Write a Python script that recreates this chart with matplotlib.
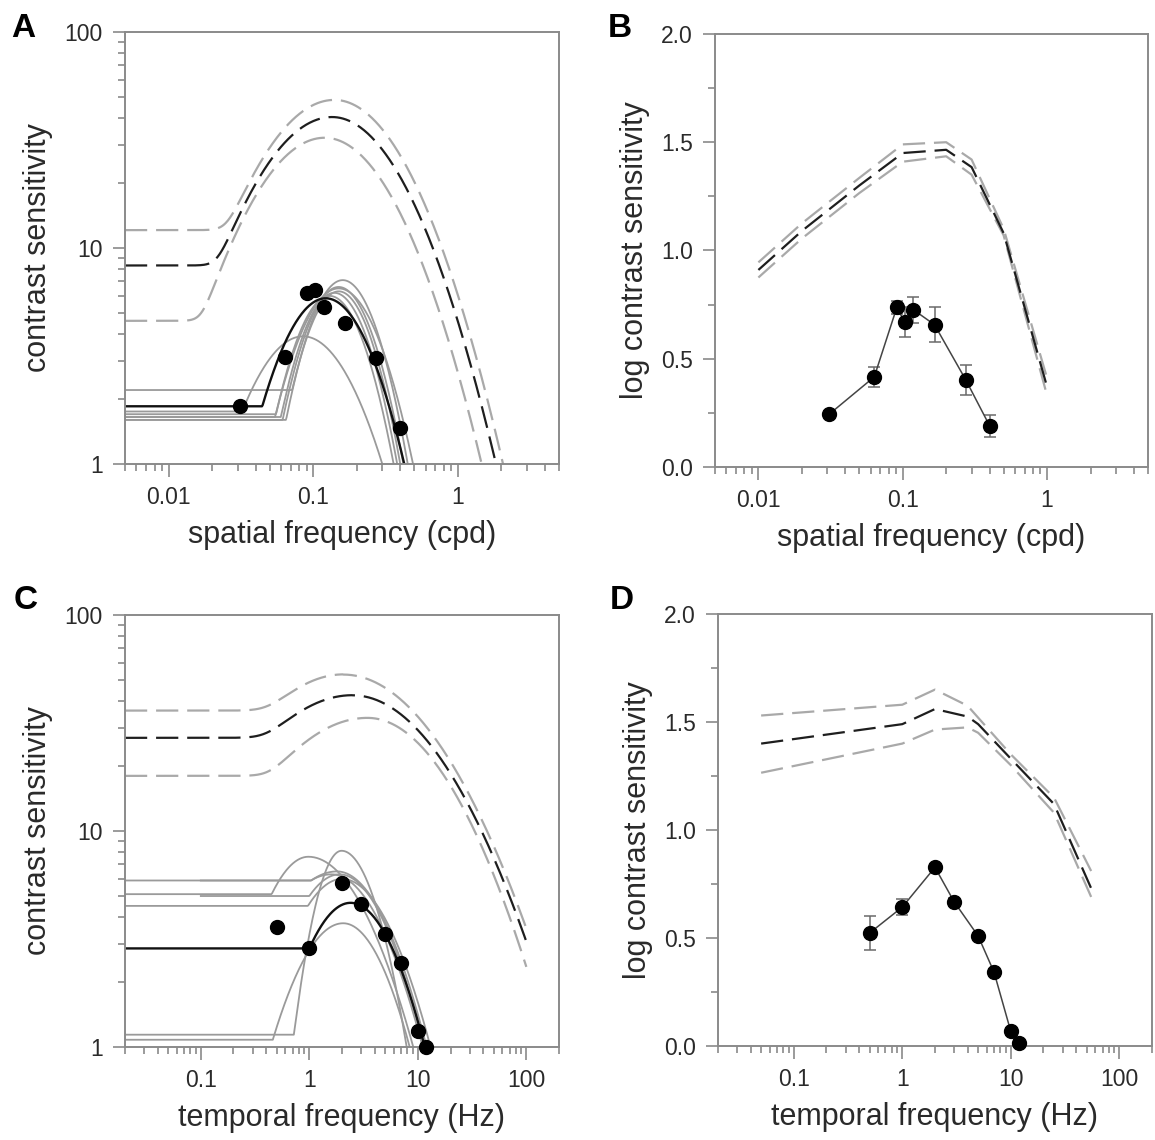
import numpy as np
import matplotlib
matplotlib.use("Agg")
import matplotlib.pyplot as plt
from matplotlib.ticker import LogLocator, FuncFormatter, MultipleLocator, NullFormatter

plt.rcParams['font.family'] = ['Liberation Sans', 'DejaVu Sans']

# ---- data --------------------------------------------------------------------
# A: contrast sensitivity vs spatial frequency (one animal)
sf_pts = [0.031, 0.0635, 0.091, 0.103, 0.118, 0.166, 0.273, 0.40]
sf_cs = [1.85, 3.12, 6.22, 6.37, 5.35, 4.5, 3.1, 1.46]

# truncated log-parabola fits: peak gain, peak freq, left width, right width, floor
a_fit_black = [5.85, 0.122, 0.62, 0.62, 1.85]
a_gray_gain = [3.9, 7.1, 6.5, 6.3, 6.0, 6.2, 6.6]
a_gray_fpk = [0.085, 0.16, 0.15, 0.15, 0.13, 0.14, 0.15]
a_gray_wl = [0.713, 0.487, 0.57, 0.476, 0.501, 0.488, 0.494]
a_gray_wr = [0.713, 0.487, 0.57, 0.476, 0.501, 0.488, 0.494]
a_gray_floor = [1.75, 1.6, 1.65, 2.2, 1.7, 1.65, 1.6]
# dashed reference fits (upper gray, black, lower gray)
a_ref_gain = [48.5, 40.4, 32.4]
a_ref_fpk = [0.14, 0.135, 0.12]
a_ref_wl = [0.95, 0.95, 0.92]
a_ref_wr = [0.898, 0.894, 0.883]
a_ref_floor = [12.1, 8.3, 4.6]

# B: log contrast sensitivity vs spatial frequency (mean +/- sem)
b_log_cs = [0.244, 0.416, 0.737, 0.67, 0.727, 0.657, 0.403, 0.19]
b_err = [0.015, 0.046, 0.03, 0.07, 0.06, 0.08, 0.07, 0.05]
b_ref_sf = [0.01, 0.02, 0.05, 0.1, 0.2, 0.3, 0.5, 1.0]
b_ref_hi = [0.945, 1.125, 1.335, 1.49, 1.50, 1.42, 1.10, 0.41]
b_ref_mid = [0.91, 1.09, 1.30, 1.45, 1.465, 1.385, 1.08, 0.37]
b_ref_lo = [0.875, 1.055, 1.265, 1.41, 1.435, 1.35, 1.07, 0.33]

# C: contrast sensitivity vs temporal frequency (one animal)
tf_pts = [0.5, 1.0, 2.0, 3.0, 5.0, 7.0, 10.0, 12.0]
tf_cs = [3.6, 2.86, 5.76, 4.6, 3.33, 2.45, 1.18, 1.0]
c_fit_black = [4.65, 2.4, 0.827, 0.837, 2.86]
c_gray_gain = [7.6, 8.1, 3.74, 6.3, 6.5, 6.3, 6.0]
c_gray_fpk = [0.98, 1.98, 2.05, 1.6, 1.8, 1.9, 2.0]
c_gray_wl = [0.813, 0.476, 0.883, 1.12, 1.16, 0.88, 0.888]
c_gray_wr = [1.03, 0.63, 0.81, 0.94, 0.916, 0.87, 0.925]
c_gray_floor = [5.1, 1.14, 1.08, 5.9, 5.9, 5.0, 4.5]
c_gray_start = [0.02, 0.02, 0.02, 0.02, 0.1, 0.1, 0.02]
c_ref_gain = [53.0, 42.5, 33.4]
c_ref_fpk = [2.06, 2.5, 3.44]
c_ref_wl = [1.62, 1.72, 1.70]
c_ref_wr = [1.555, 1.50, 1.363]
c_ref_floor = [36.1, 27.0, 18.0]

# D: log contrast sensitivity vs temporal frequency (mean +/- sem)
d_log_cs = [0.523, 0.643, 0.827, 0.668, 0.509, 0.342, 0.067, 0.015]
d_err = [0.08, 0.038, 0.015, 0.015, 0.015, 0.015, 0.015, 0.015]
d_ref_tf = [0.05, 1.0, 2.0, 4.0, 5.0, 10.0, 25.0, 55.0]
d_ref_hi = [1.53, 1.58, 1.65, 1.575, 1.52, 1.35, 1.15, 0.81]
d_ref_mid = [1.40, 1.49, 1.56, 1.525, 1.49, 1.33, 1.12, 0.73]
d_ref_lo = [1.265, 1.40, 1.465, 1.475, 1.45, 1.30, 1.08, 0.69]

# ---- styling -----------------------------------------------------------------
SPINE = '#8a8a8a'
TXT = '#2a2a2a'
GRAY_DASH = '#a9a9a9'
BLACK_DASH = '#1e1e1e'
GRAY_LINE = '#9a9a9a'
DASH = (0, (10, 4))


def trunc_logparabola(f, gain, fpeak, wl, wr, floor, soft=None):
    x = np.log10(f) - np.log10(fpeak)
    w = np.where(x < 0, wl, wr)
    s = np.log10(gain) - (x / w) ** 2
    if soft is None:
        s = np.where(x < 0, np.maximum(s, np.log10(floor)), s)
    else:
        # rounded corner where the parabola meets the floor
        sm = np.log10(10 ** (soft * s) + 10 ** (soft * np.log10(floor))) / soft
        s = np.where(x < 0, sm, s)
    return 10 ** s


def style_axes(ax, xlim, ylabel, xlabel, logy):
    ax.set_xscale('log')
    ax.set_xlim(*xlim)
    for sp in ax.spines.values():
        sp.set_color(SPINE)
        sp.set_linewidth(1.4)
    ax.tick_params(which='both', direction='out', color=SPINE, width=1.2,
                   top=False, right=False, labelcolor=TXT, labelsize=16.5)
    ax.tick_params(which='major', length=9, pad=7)
    ax.tick_params(which='minor', length=5)
    ax.xaxis.set_major_locator(LogLocator(base=10))
    ax.xaxis.set_minor_locator(LogLocator(base=10, subs=np.arange(2, 10)))
    ax.xaxis.set_major_formatter(FuncFormatter(lambda v, p: '%g' % v))
    ax.xaxis.set_minor_formatter(NullFormatter())
    if logy:
        ax.set_yscale('log')
        ax.set_ylim(1, 100)
        ax.yaxis.set_major_locator(LogLocator(base=10))
        ax.yaxis.set_minor_locator(LogLocator(base=10, subs=np.arange(2, 10)))
        ax.yaxis.set_major_formatter(FuncFormatter(lambda v, p: '%g' % v))
        ax.yaxis.set_minor_formatter(NullFormatter())
    else:
        ax.set_ylim(0, 2)
        ax.yaxis.set_major_locator(MultipleLocator(0.5))
        ax.yaxis.set_minor_locator(MultipleLocator(0.25))
        ax.yaxis.set_major_formatter(FuncFormatter(lambda v, p: '%.1f' % v))
    ax.set_xlabel(xlabel, fontsize=22, color=TXT, labelpad=8)
    ax.set_ylabel(ylabel, fontsize=22, color=TXT, labelpad=8)


fig = plt.figure(figsize=(11.55, 11.40), dpi=100)
axA = fig.add_axes([0.1082, 0.5930, 0.3758, 0.3789])
axB = fig.add_axes([0.6190, 0.5904, 0.3749, 0.3798])
axC = fig.add_axes([0.1082, 0.0816, 0.3758, 0.3789])
axD = fig.add_axes([0.6216, 0.0825, 0.3758, 0.3789])

# ---- A -------------------------------------------------------------------------
fgrid = np.logspace(np.log10(0.005), np.log10(5), 600)
for i in range(3):
    col = BLACK_DASH if i == 1 else GRAY_DASH
    axA.plot(fgrid, trunc_logparabola(fgrid, a_ref_gain[i], a_ref_fpk[i], a_ref_wl[i],
                                      a_ref_wr[i], a_ref_floor[i], soft=7),
             color=col, lw=1.6, linestyle=DASH)
for i in range(len(a_gray_gain)):
    axA.plot(fgrid, trunc_logparabola(fgrid, a_gray_gain[i], a_gray_fpk[i], a_gray_wl[i],
                                      a_gray_wr[i], a_gray_floor[i]),
             color=GRAY_LINE, lw=1.3)
axA.plot(fgrid, trunc_logparabola(fgrid, *a_fit_black), color='#111111', lw=1.7)
axA.plot(sf_pts, sf_cs, 'o', color='black', ms=10, clip_on=False, zorder=5)
style_axes(axA, (0.005, 5), 'contrast sensitivity', 'spatial frequency (cpd)', True)

# ---- B -------------------------------------------------------------------------
for vals, col in [(b_ref_hi, GRAY_DASH), (b_ref_lo, GRAY_DASH), (b_ref_mid, BLACK_DASH)]:
    axB.plot(b_ref_sf, vals, color=col, lw=1.6, linestyle=DASH)
axB.errorbar(sf_pts, b_log_cs, yerr=b_err, fmt='o', color='#444444', ecolor='#6a6a6a',
             elinewidth=1.1, capsize=4.5, capthick=1.1, ms=10, mfc='black', mec='black',
             linestyle='-', lw=1.1, clip_on=False, zorder=5)
style_axes(axB, (0.005, 5), 'log contrast sensitivity', 'spatial frequency (cpd)', False)

# ---- C -------------------------------------------------------------------------
for i in range(3):
    col = BLACK_DASH if i == 1 else GRAY_DASH
    tgrid = np.logspace(np.log10(0.02), np.log10(100), 600)
    axC.plot(tgrid, trunc_logparabola(tgrid, c_ref_gain[i], c_ref_fpk[i], c_ref_wl[i],
                                      c_ref_wr[i], c_ref_floor[i], soft=10),
             color=col, lw=1.6, linestyle=DASH)
for i in range(len(c_gray_gain)):
    tgrid = np.logspace(np.log10(c_gray_start[i]), np.log10(200), 600)
    axC.plot(tgrid, trunc_logparabola(tgrid, c_gray_gain[i], c_gray_fpk[i], c_gray_wl[i],
                                      c_gray_wr[i], c_gray_floor[i]),
             color=GRAY_LINE, lw=1.3)
tgrid = np.logspace(np.log10(0.02), np.log10(200), 600)
axC.plot(tgrid, trunc_logparabola(tgrid, *c_fit_black), color='#111111', lw=1.7)
axC.plot(tf_pts, tf_cs, 'o', color='black', ms=10, clip_on=False, zorder=5)
style_axes(axC, (0.02, 200), 'contrast sensitivity', 'temporal frequency (Hz)', True)

# ---- D -------------------------------------------------------------------------
for vals, col in [(d_ref_hi, GRAY_DASH), (d_ref_lo, GRAY_DASH), (d_ref_mid, BLACK_DASH)]:
    axD.plot(d_ref_tf, vals, color=col, lw=1.6, linestyle=DASH)
axD.errorbar(tf_pts, d_log_cs, yerr=d_err, fmt='o', color='#444444', ecolor='#6a6a6a',
             elinewidth=1.1, capsize=4.5, capthick=1.1, ms=10, mfc='black', mec='black',
             linestyle='-', lw=1.1, clip_on=False, zorder=5)
style_axes(axD, (0.02, 200), 'log contrast sensitivity', 'temporal frequency (Hz)', False)

# panel letters
for lab, x, y in [('A', 0.010, 0.989), ('B', 0.526, 0.989), ('C', 0.012, 0.487), ('D', 0.528, 0.487)]:
    fig.text(x, y, lab, fontsize=24, fontweight='bold', ha='left', va='top', color='black')

fig.savefig('out.png', dpi=100)
